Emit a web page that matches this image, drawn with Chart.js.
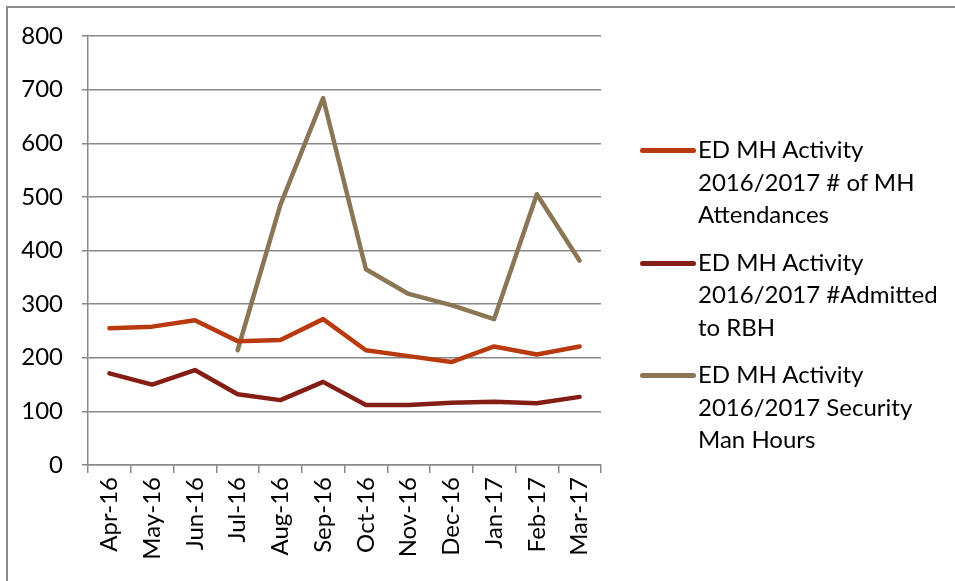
<!DOCTYPE html>
<html>
<head>
<meta charset="utf-8">
<script src="https://cdn.jsdelivr.net/npm/chart.js@4"></script>
<style>
  body { margin: 0; background: #fff; }
  #wrap { position: relative; width: 955px; height: 581px; overflow: hidden; }
  #frame { position: absolute; left: 6px; top: 6px; width: 1200px; height: 1200px; border: 2px solid #8a8a8a; box-sizing: border-box; }
  #chart { position: absolute; left: 0; top: 0; }
  #legend { position: absolute; left: 640px; top: 133px; font-family: Lato, "Open Sans", sans-serif; font-size: 24px; color: #000; }
  .item { display: flex; align-items: flex-start; height: 112.5px; }
  .swatch { width: 56px; height: 5px; border-radius: 3px; margin-top: 15px; margin-right: 2px; }
  .txt { line-height: 32.5px; }
</style>
</head>
<body>
<div id="wrap">
  <div id="frame"></div>
  <canvas id="chart" width="955" height="581"></canvas>
  <div id="legend"></div>
</div>
<script>
const months = ['Apr-16', 'May-16', 'Jun-16', 'Jul-16', 'Aug-16', 'Sep-16',
                'Oct-16', 'Nov-16', 'Dec-16', 'Jan-17', 'Feb-17', 'Mar-17'];

const attendances = [255, 258, 270, 231, 233, 272, 214, 203, 192, 221, 206, 221];
const admitted = [171, 150, 177, 132, 121, 155, 112, 112, 116, 118, 115, 127];
const securityHours = [null, null, null, 214, 485, 684, 365, 319, 298, 272, 505, 381];

const seriesNames = [
    ['ED MH Activity', '2016/2017 # of MH', 'Attendances'],
    ['ED MH Activity', '2016/2017 #Admitted', 'to RBH'],
    ['ED MH Activity', '2016/2017 Security', 'Man Hours']
];
const seriesColors = ['#b83a0e', '#841d13', '#8a7555'];

const gridColor = '#888888';
const font = { family: 'Lato, "Open Sans", sans-serif', size: 24 };

function makeDataset(idx, values) {
    return {
        label: seriesNames[idx].join(' '),
        data: values,
        borderColor: seriesColors[idx],
        backgroundColor: seriesColors[idx],
        borderWidth: 4.5,
        borderCapStyle: 'round',
        borderJoinStyle: 'round',
        pointRadius: 0,
        tension: 0,
        fill: false
    };
}

const ctx = document.getElementById('chart').getContext('2d');
const chart = new Chart(ctx, {
    type: 'line',
    data: {
        labels: months,
        datasets: [
            makeDataset(0, attendances),
            makeDataset(1, admitted),
            makeDataset(2, securityHours)
        ]
    },
    options: {
        responsive: false,
        animation: false,
        layout: { padding: { left: 0, top: 36, right: 354, bottom: 0 } },
        plugins: {
            legend: { display: false },
            tooltip: { enabled: false }
        },
        scales: {
            x: {
                offset: true,
                grid: {
                    offset: true,
                    drawOnChartArea: false,
                    drawTicks: true,
                    tickLength: 8,
                    color: gridColor,
                    lineWidth: 1.5
                },
                border: { color: gridColor, width: 1.5 },
                ticks: {
                    color: '#000',
                    font: font,
                    minRotation: 90,
                    maxRotation: 90,
                    padding: 4,
                    autoSkip: false
                },
                afterFit: function(scale) { scale.height = 116; }
            },
            y: {
                min: 0,
                max: 800,
                grid: {
                    color: gridColor,
                    lineWidth: 1.5,
                    drawTicks: true,
                    tickLength: 6
                },
                border: { color: gridColor, width: 1.5 },
                ticks: {
                    stepSize: 100,
                    color: '#000',
                    font: font,
                    padding: 19
                },
                afterFit: function(scale) { scale.width = 88; }
            }
        }
    }
});

// html legend, multi-line labels like the original
const legendEl = document.getElementById('legend');
chart.data.datasets.forEach((ds, i) => {
    const item = document.createElement('div');
    item.className = 'item';
    const sw = document.createElement('div');
    sw.className = 'swatch';
    sw.style.background = ds.borderColor;
    const txt = document.createElement('div');
    txt.className = 'txt';
    txt.innerHTML = seriesNames[i].join('<br>');
    item.appendChild(sw);
    item.appendChild(txt);
    legendEl.appendChild(item);
});
</script>
</body>
</html>
